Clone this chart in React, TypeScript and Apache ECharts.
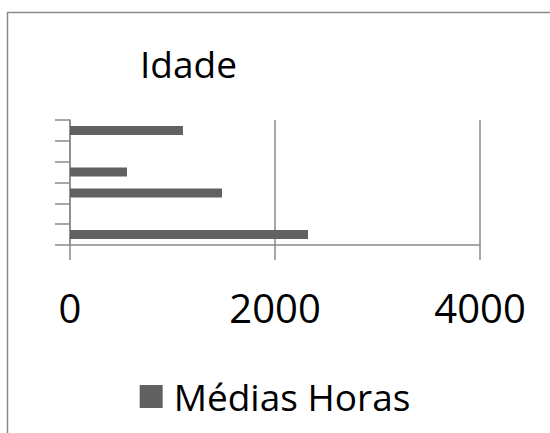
import React, { useEffect, useRef } from "react";
import * as echarts from "echarts";

const categories = ["1", "2", "3", "4", "5", "6"];
const seriesName = "Médias Horas";
const values: (number | null)[] = [2322, null, 1483, 556, null, 1102];
const xTicks = [0, 2000, 4000];
const titleText = "Idade";

export default function App() {
  const ref = useRef<HTMLDivElement>(null);
  useEffect(() => {
    if (!ref.current) return;
    const chart = echarts.init(ref.current, undefined, { renderer: "svg" });
    const font = "'Open Sans', sans-serif";
    chart.setOption({
      animation: false,
      backgroundColor: "#ffffff",
      title: {
        text: titleText,
        left: 140,
        top: 45,
        padding: 0,
        textStyle: { fontFamily: font, fontSize: 37, fontWeight: "normal", color: "#000" },
      },
      graphic: [
        {
          type: "rect",
          shape: { x: 7.5, y: 12.5, width: 700, height: 600 },
          style: { fill: "none", stroke: "#8a8a8a", lineWidth: 1.5 },
          silent: true,
        },
      ],
      legend: {
        data: [seriesName],
        left: "center",
        top: 373,
        itemWidth: 23,
        itemHeight: 23,
        icon: "rect",
        textStyle: { fontFamily: font, fontSize: 37, color: "#000", padding: [0, 0, 0, 6] },
      },
      grid: { left: 70, right: 70, top: 120, bottom: 188, containLabel: false },
      xAxis: {
        type: "value",
        min: xTicks[0],
        max: xTicks[xTicks.length - 1],
        interval: xTicks[1] - xTicks[0],
        axisLine: { show: true, lineStyle: { color: "#8a8a8a", width: 1.5 } },
        axisTick: { show: true, length: 15, lineStyle: { color: "#8a8a8a", width: 1.5 } },
        splitLine: { show: true, lineStyle: { color: "#8a8a8a", width: 1.5 } },
        axisLabel: {
          fontFamily: font,
          fontSize: 40,
          color: "#000",
          margin: 42,
          formatter: (v: number) => String(v),
        },
      },
      yAxis: {
        type: "category",
        data: categories,
        boundaryGap: true,
        axisLine: { show: true, lineStyle: { color: "#8a8a8a", width: 1.5 } },
        axisTick: { show: true, length: 15, alignWithLabel: false, lineStyle: { color: "#8a8a8a", width: 1.5 } },
        axisLabel: { show: false },
        splitLine: { show: false },
      },
      series: [
        {
          name: seriesName,
          type: "bar",
          data: values,
          barWidth: 9,
          itemStyle: { color: "#616161" },
        },
      ],
    });
    return () => chart.dispose();
  }, []);
  return (
    <div
      ref={ref}
      style={{ position: "fixed", left: 0, top: 0, width: 550, height: 433 }}
    />
  );
}
